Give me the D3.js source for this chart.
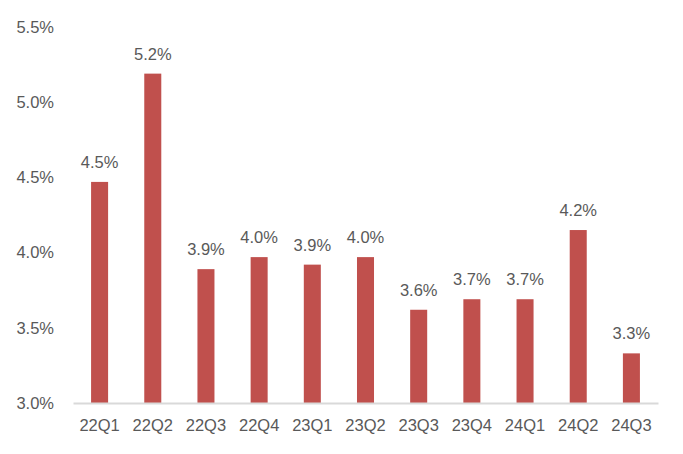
<!DOCTYPE html>
<html>
<head>
<meta charset="utf-8">
<script src="https://cdn.jsdelivr.net/npm/d3@7"></script>
<style>
  body { margin: 0; background: #fff; }
  text { font-family: "Liberation Sans", Arial, sans-serif; fill: #595959; }
</style>
</head>
<body>
<svg id="chart" width="683" height="454"></svg>
<script>
// quarters and values (%)
const quarters = ["22Q1", "22Q2", "22Q3", "22Q4", "23Q1", "23Q2", "23Q3", "23Q4", "24Q1", "24Q2", "24Q3"];
const values = [4.47, 5.19, 3.89, 3.97, 3.92, 3.97, 3.62, 3.69, 3.69, 4.15, 3.33];
const labels = ["4.5%", "5.2%", "3.9%", "4.0%", "3.9%", "4.0%", "3.6%", "3.7%", "3.7%", "4.2%", "3.3%"];
const yTicks = [3.0, 3.5, 4.0, 4.5, 5.0, 5.5];

const svg = d3.select("#chart");
const margin = { left: 73, right: 25, top: 27, bottom: 51 };
const width = 683, height = 454;
const fontSize = "16.5px";

const x = d3.scaleBand()
    .domain(quarters)
    .range([margin.left, width - margin.right])
    .paddingInner(0.68)
    .paddingOuter(0.34);

const y = d3.scaleLinear()
    .domain([3.0, 5.5])
    .range([height - margin.bottom, margin.top]);

// bars
svg.selectAll("rect.bar")
    .data(quarters)
    .enter().append("rect")
    .attr("class", "bar")
    .attr("x", d => x(d))
    .attr("width", x.bandwidth())
    .attr("y", (d, i) => y(values[i]))
    .attr("height", (d, i) => y(3.0) - y(values[i]))
    .style("fill", "#c0504d");

// value labels
svg.selectAll("text.val")
    .data(quarters)
    .enter().append("text")
    .attr("class", "val")
    .attr("x", d => x(d) + x.bandwidth() / 2)
    .attr("y", (d, i) => y(values[i]) - 14)
    .attr("text-anchor", "middle")
    .style("font-size", fontSize)
    .text((d, i) => labels[i]);

// y axis (labels only)
const yAxis = svg.append("g")
    .attr("transform", "translate(" + margin.left + ",0)")
    .call(d3.axisLeft(y).tickValues(yTicks).tickFormat(d => d.toFixed(1) + "%").tickSize(0).tickPadding(19));
yAxis.select(".domain").remove();
yAxis.selectAll("text").style("font-size", fontSize).style("fill", "#595959")
    .style("font-family", "Liberation Sans, Arial, sans-serif");

// x axis
const xAxis = svg.append("g")
    .attr("transform", "translate(0," + y(3.0) + ")")
    .call(d3.axisBottom(x).tickSize(0).tickPadding(16));
xAxis.select(".domain").style("stroke", "#d9d9d9").style("stroke-width", 2);
xAxis.selectAll("text").style("font-size", fontSize).style("fill", "#595959")
    .style("font-family", "Liberation Sans, Arial, sans-serif");
</script>
</body>
</html>
